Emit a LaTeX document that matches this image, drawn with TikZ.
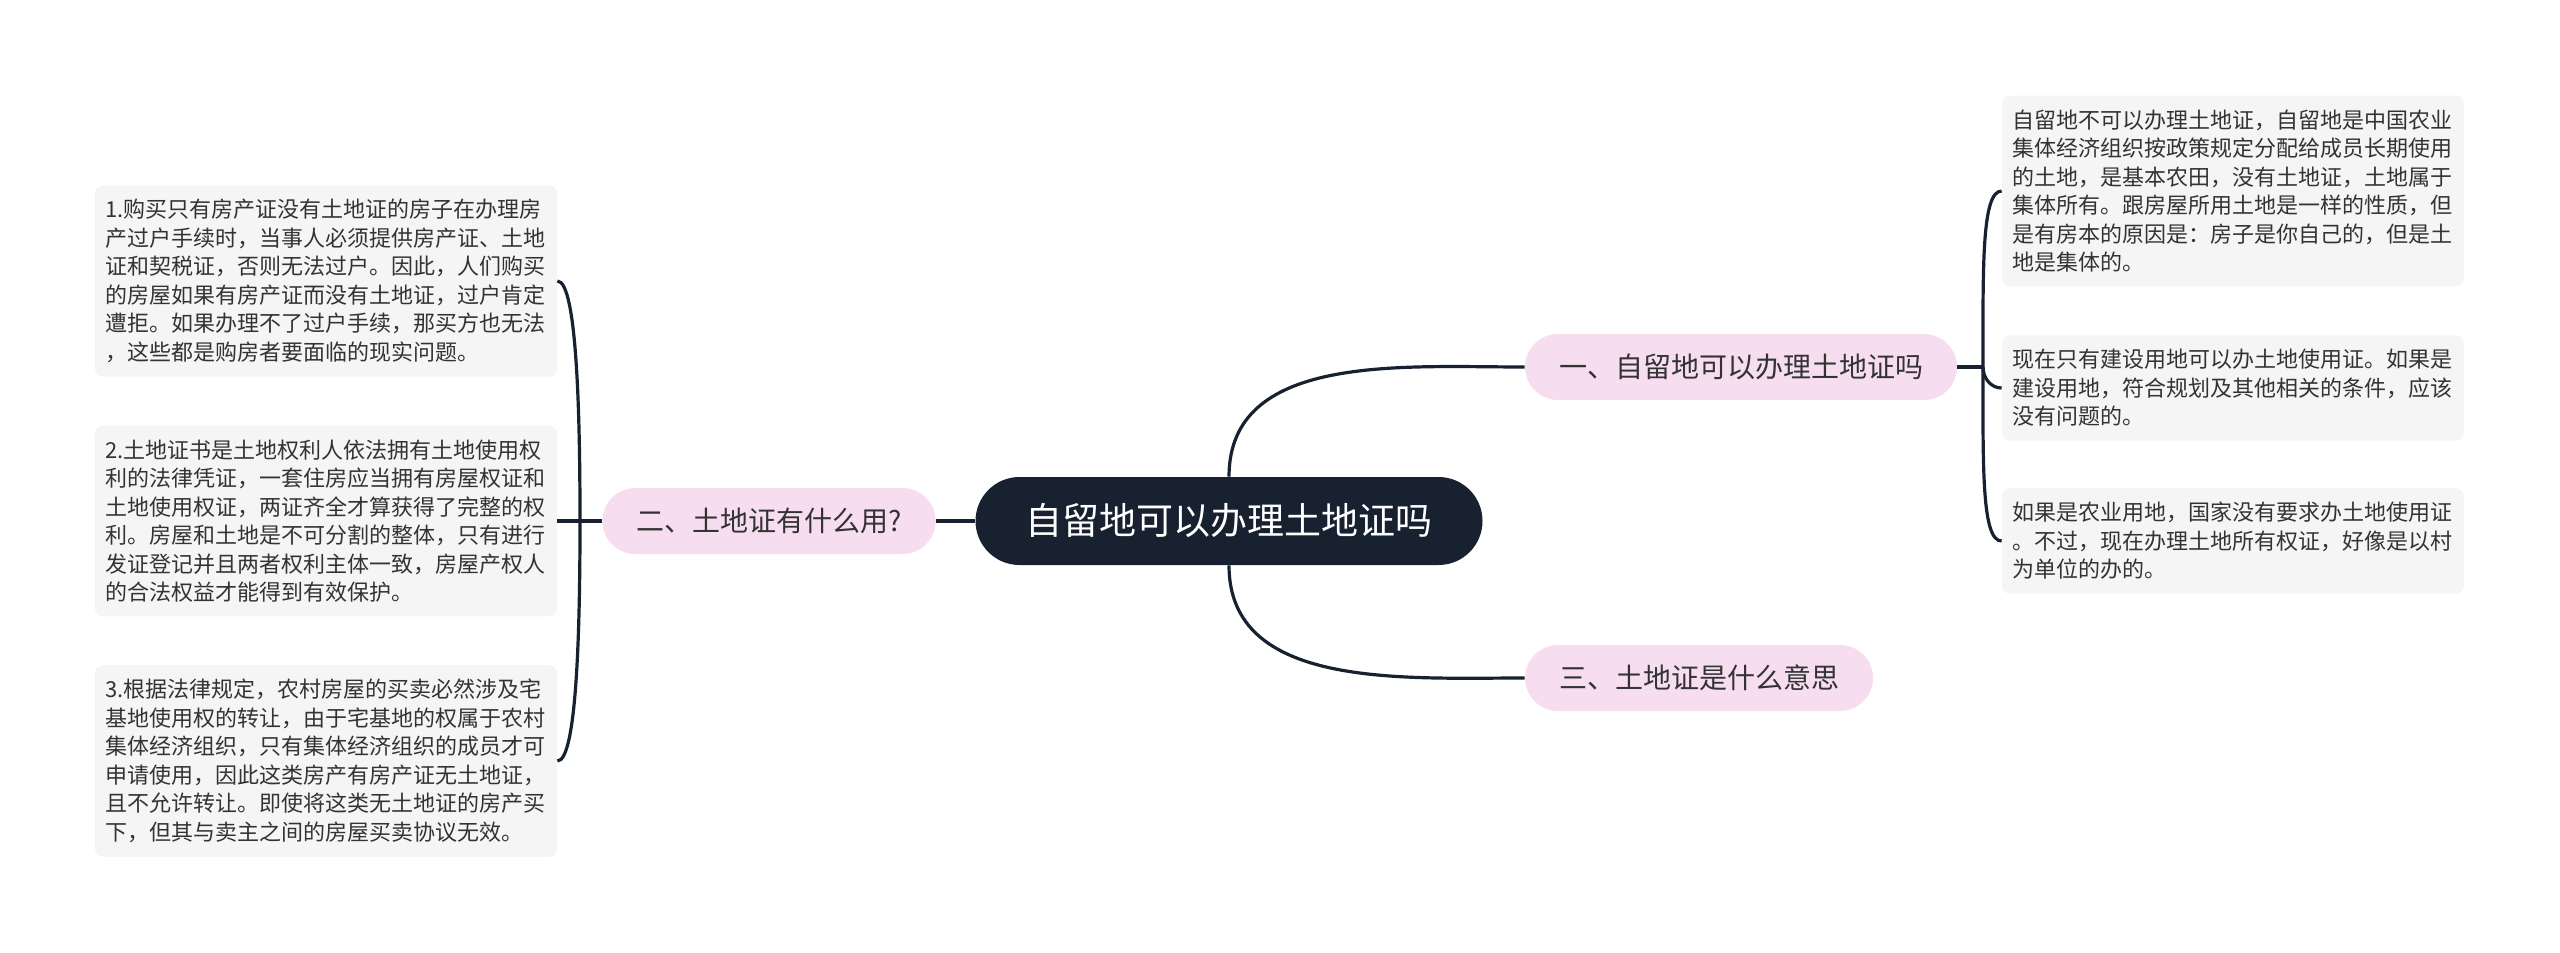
\documentclass[tikz,border=0pt]{standalone}
\usepackage{fontspec}
\setmainfont{Noto Sans CJK SC}
\usepackage{tikz}
\usetikzlibrary{positioning}
\definecolor{encre}{HTML}{172130}
\definecolor{rose}{HTML}{F6DDEF}
\definecolor{gris}{HTML}{F5F5F5}
\definecolor{texte}{HTML}{333333}

\begin{document}
\begin{tikzpicture}[
		x=0.5pt, y=-0.5pt,
		central/.style={rounded corners=22pt, fill=encre, text=white, font=\fontsize{18.5pt}{22pt}\selectfont, minimum height=44pt, inner xsep=25pt},
		topic/.style={rounded corners=16.5pt, fill=rose, text=texte, font=\fontsize{14pt}{17pt}\selectfont, minimum height=33pt, inner xsep=17pt},
		note/.style={rounded corners=4pt, fill=gris, text=texte, font=\fontsize{11pt}{14.25pt}\selectfont, text width=221pt, align=left, inner xsep=5pt, inner ysep=7pt},
		lien/.style={draw=encre, line width=1.6pt}, % traits des branches
		]
		\useasboundingbox (0,0) rectangle (2560,953);
		
		% Le sujet et les branches
		\node[central] (R) at (1229, 521) {自留地可以办理土地证吗};
		\node[topic] (A) at (1741, 367) {一、自留地可以办理土地证吗};
		\node[topic] (B) at (769, 521) {二、土地证有什么用?};
		\node[topic] (C) at (1699, 678) {三、土地证是什么意思};
		
		% Les notes
		\node[note] (A1) at (2233, 191) {自留地不可以办理土地证，自留地是中国农业\\集体经济组织按政策规定分配给成员长期使用\\的土地，是基本农田，没有土地证，土地属于\\集体所有。跟房屋所用土地是一样的性质，但\\是有房本的原因是：房子是你自己的，但是土\\地是集体的。};
		\node[note] (A2) at (2233, 388) {现在只有建设用地可以办土地使用证。如果是\\建设用地，符合规划及其他相关的条件，应该\\没有问题的。};
		\node[note] (A3) at (2233, 541) {如果是农业用地，国家没有要求办土地使用证\\。不过，现在办理土地所有权证，好像是以村\\为单位的办的。};
		\node[note] (B1) at (326, 281) {1.购买只有房产证没有土地证的房子在办理房\\产过户手续时，当事人必须提供房产证、土地\\证和契税证，否则无法过户。因此，人们购买\\的房屋如果有房产证而没有土地证，过户肯定\\遭拒。如果办理不了过户手续，那买方也无法\\，这些都是购房者要面临的现实问题。};
		\node[note] (B2) at (326, 521) {2.土地证书是土地权利人依法拥有土地使用权\\利的法律凭证，一套住房应当拥有房屋权证和\\土地使用权证，两证齐全才算获得了完整的权\\利。房屋和土地是不可分割的整体，只有进行\\发证登记并且两者权利主体一致，房屋产权人\\的合法权益才能得到有效保护。};
		\node[note] (B3) at (326, 761) {3.根据法律规定，农村房屋的买卖必然涉及宅\\基地使用权的转让，由于宅基地的权属于农村\\集体经济组织，只有集体经济组织的成员才可\\申请使用，因此这类房产有房产证无土地证，\\且不允许转让。即使将这类无土地证的房产买\\下，但其与卖主之间的房屋买卖协议无效。};
		
		\coordinate (hA) at (1983, 367);
		\coordinate (hB) at (580, 521);
		
		% Les liens
		\draw[lien] (R.north) to[out=90, in=180] (A.west);
		\draw[lien] (R.south) to[out=-90, in=180] (C.west);
		\draw[lien] (R.west) -- (B.east);
		\draw[lien] (A.east) -- (hA);
		\draw[lien] (hA) to[out=90, in=180, out distance=50pt, in distance=10pt] (A1.west);
		\draw[lien] (hA) to[out=-90, in=180] (A2.west);
		\draw[lien] (hA) to[out=-90, in=180, out distance=50pt, in distance=10pt] (A3.west);
		\draw[lien] (B.west) -- (hB);
		\draw[lien] (hB) to[out=90, in=0, out distance=50pt, in distance=10pt] (B1.east);
		\draw[lien] (hB) -- (B2.east);
		\draw[lien] (hB) to[out=-90, in=0, out distance=50pt, in distance=10pt] (B3.east);
	\end{tikzpicture}
\end{document}
